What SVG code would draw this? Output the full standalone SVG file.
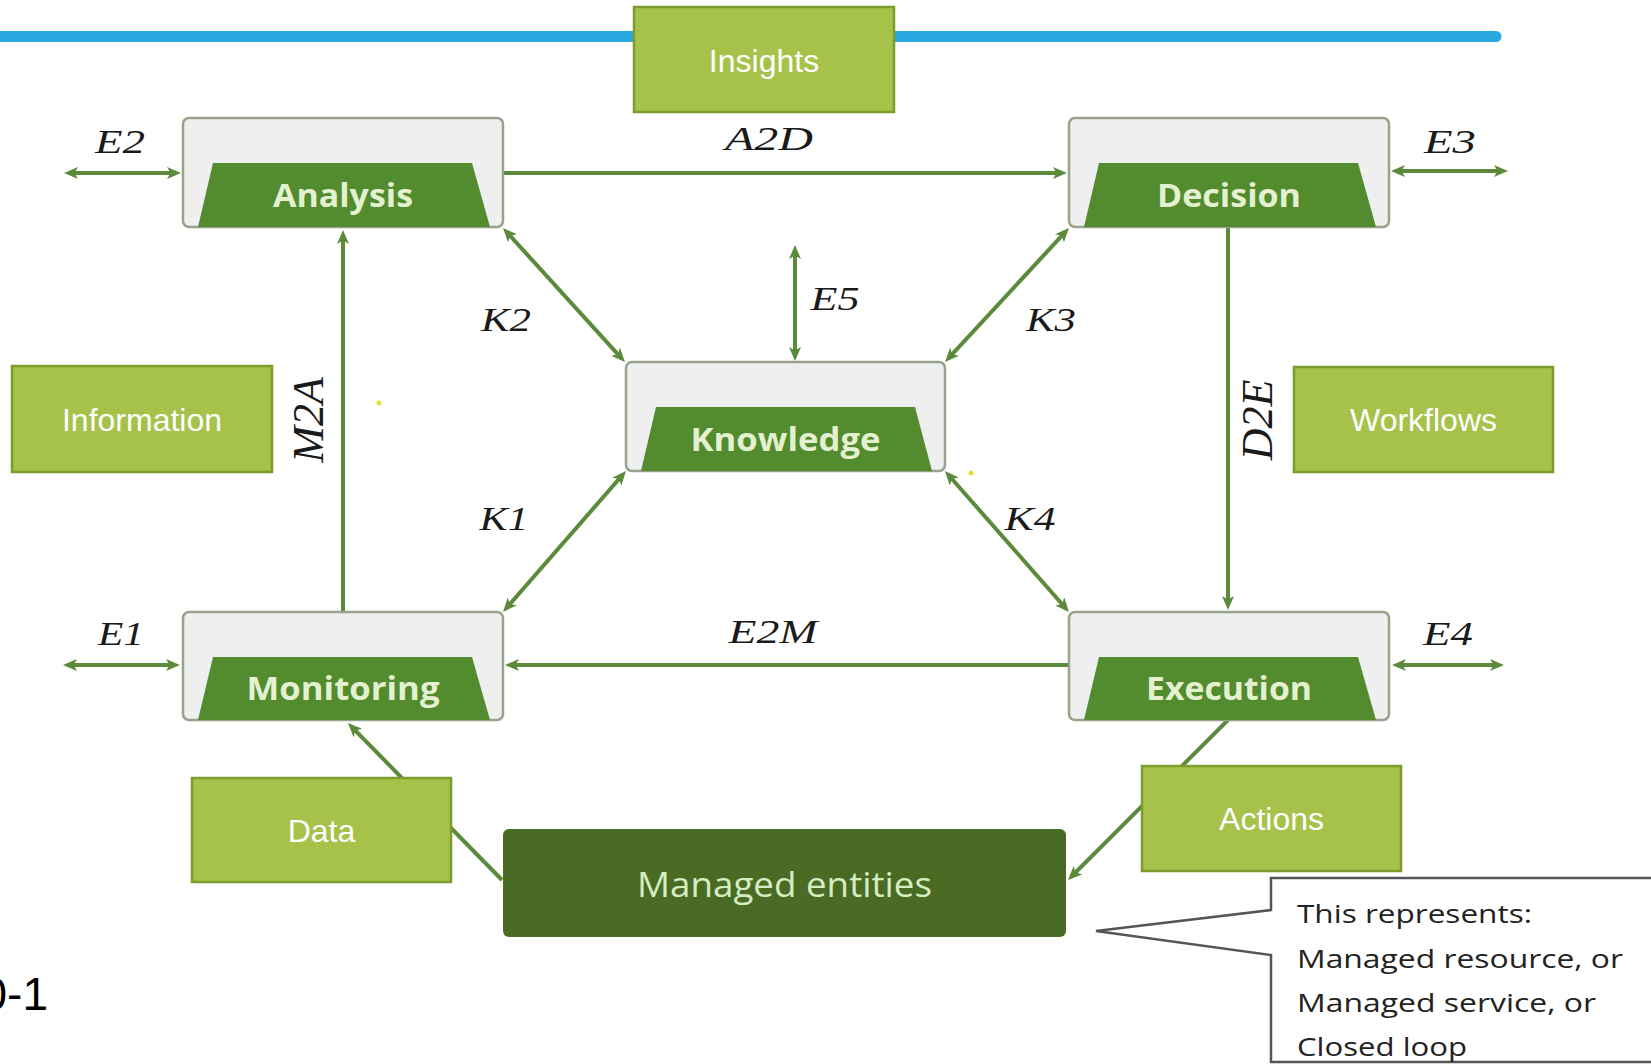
<svg xmlns="http://www.w3.org/2000/svg" width="1651" height="1064" viewBox="0 0 1651 1064">
<style>
.lime{fill:#a6c24a;stroke:#7d9c2e;stroke-width:2.5}
.limetxt{font-family:"Liberation Sans",Arial,sans-serif;font-size:32px;fill:#ffffff;text-anchor:middle}
.outer{fill:#efefef;stroke:#97a38c;stroke-width:2.5}
.trap{fill:#538b2f}
.ntxt{font-family:"Open Sans","Noto Sans",sans-serif;font-weight:bold;font-size:32px;fill:#e3f1d0;text-anchor:middle}
.lbl{font-family:"Liberation Serif","Times New Roman",serif;font-style:italic;font-size:34px;fill:#1a1a1a;text-anchor:middle}
.rlbl{font-family:"Liberation Serif","Times New Roman",serif;font-style:italic;font-size:44px;fill:#1a1a1a;text-anchor:middle}
.conn{stroke:#5b8a3b;stroke-width:4;fill:none}
.ctxt{font-family:"Open Sans","Noto Sans",sans-serif;font-size:26px;fill:#222222}
</style>
<defs>
<marker id="ah" viewBox="0 0 14 12" markerWidth="14" markerHeight="12" refX="9" refY="6" orient="auto-start-reverse" markerUnits="userSpaceOnUse">
<path d="M0,0 L14,6 L0,12 L3.5,6 Z" fill="#5b8a3b"/>
</marker>
</defs>
<rect width="1651" height="1064" fill="#ffffff"/>
<line x1="0" y1="36.5" x2="1496" y2="36.5" stroke="#29a8e0" stroke-width="11" stroke-linecap="round"/>

<g id="connectors">
<line class="conn" x1="69" y1="173" x2="176" y2="173" marker-start="url(#ah)" marker-end="url(#ah)"/>
<line class="conn" x1="503" y1="173" x2="1062" y2="173" marker-end="url(#ah)"/>
<line class="conn" x1="1396" y1="171" x2="1503" y2="171" marker-start="url(#ah)" marker-end="url(#ah)"/>
<line class="conn" x1="343" y1="612" x2="343" y2="235" marker-end="url(#ah)"/>
<line class="conn" x1="1228" y1="228" x2="1228" y2="605" marker-end="url(#ah)"/>
<line class="conn" x1="795" y1="250" x2="795" y2="356" marker-start="url(#ah)" marker-end="url(#ah)"/>
<line class="conn" x1="506.4" y1="231.7" x2="621.6" y2="358.3" marker-start="url(#ah)" marker-end="url(#ah)"/>
<line class="conn" x1="1065.6" y1="231.7" x2="948.4" y2="358.3" marker-start="url(#ah)" marker-end="url(#ah)"/>
<line class="conn" x1="506.3" y1="608.2" x2="622.7" y2="474.8" marker-start="url(#ah)" marker-end="url(#ah)"/>
<line class="conn" x1="948.3" y1="474.8" x2="1065.7" y2="608.2" marker-start="url(#ah)" marker-end="url(#ah)"/>
<line class="conn" x1="1069" y1="665" x2="510" y2="665" marker-end="url(#ah)"/>
<line class="conn" x1="68" y1="665" x2="175" y2="665" marker-start="url(#ah)" marker-end="url(#ah)"/>
<line class="conn" x1="1397" y1="665" x2="1499" y2="665" marker-start="url(#ah)" marker-end="url(#ah)"/>
<line class="conn" x1="502" y1="880" x2="351.5" y2="726.6" marker-end="url(#ah)"/>
<line class="conn" x1="1228" y1="720" x2="1071.5" y2="876.5" marker-end="url(#ah)"/>
<text class="lbl" x="120" y="153" textLength="50" lengthAdjust="spacingAndGlyphs">E2</text>
<text class="lbl" x="769" y="150" textLength="88" lengthAdjust="spacingAndGlyphs">A2D</text>
<text class="lbl" x="1450" y="153" textLength="52" lengthAdjust="spacingAndGlyphs">E3</text>
<text class="lbl" x="835" y="310" textLength="49" lengthAdjust="spacingAndGlyphs">E5</text>
<text class="lbl" x="506" y="331" textLength="50" lengthAdjust="spacingAndGlyphs">K2</text>
<text class="lbl" x="1051" y="331" textLength="50" lengthAdjust="spacingAndGlyphs">K3</text>
<text class="lbl" x="504" y="530" textLength="49" lengthAdjust="spacingAndGlyphs">K1</text>
<text class="lbl" x="1030" y="530" textLength="51" lengthAdjust="spacingAndGlyphs">K4</text>
<text class="lbl" x="773" y="643" textLength="89" lengthAdjust="spacingAndGlyphs">E2M</text>
<text class="lbl" x="121" y="645" textLength="46" lengthAdjust="spacingAndGlyphs">E1</text>
<text class="lbl" x="1448" y="645" textLength="50" lengthAdjust="spacingAndGlyphs">E4</text>
<text class="rlbl" transform="translate(323,420) rotate(-90)" x="0" y="0">M2A</text>
<text class="rlbl" transform="translate(1272,420) rotate(-90)" x="0" y="0">D2E</text>
</g>

<g id="analysis">
<rect class="outer" x="183" y="118" width="320" height="109" rx="6"/>
<polygon class="trap" points="213,163 472,163 490,227 198,227"/>
<text class="ntxt" x="343" y="207" textLength="140" lengthAdjust="spacingAndGlyphs">Analysis</text>
</g>
<g id="decision">
<rect class="outer" x="1069" y="118" width="320" height="109" rx="6"/>
<polygon class="trap" points="1099,163 1358,163 1376,227 1084,227"/>
<text class="ntxt" x="1229" y="207" textLength="144" lengthAdjust="spacingAndGlyphs">Decision</text>
</g>
<g id="knowledge">
<rect class="outer" x="626" y="362" width="319" height="109" rx="6"/>
<polygon class="trap" points="656,407 915,407 932,471 641,471"/>
<text class="ntxt" x="785.5" y="451" textLength="190" lengthAdjust="spacingAndGlyphs">Knowledge</text>
</g>
<g id="monitoring">
<rect class="outer" x="183" y="612" width="320" height="108" rx="6"/>
<polygon class="trap" points="213,657 472,657 490,720 198,720"/>
<text class="ntxt" x="343" y="700" textLength="193" lengthAdjust="spacingAndGlyphs">Monitoring</text>
</g>
<g id="execution">
<rect class="outer" x="1069" y="612" width="320" height="108" rx="6"/>
<polygon class="trap" points="1099,657 1358,657 1376,720 1084,720"/>
<text class="ntxt" x="1229" y="700" textLength="166" lengthAdjust="spacingAndGlyphs">Execution</text>
</g>
<g id="managed-entities">
<rect x="503" y="829" width="563" height="108" rx="6" fill="#4a6b23"/>
<text x="784.5" y="897" font-family="'Open Sans','Noto Sans',sans-serif" font-size="34" fill="#d6ecc2" text-anchor="middle" textLength="295" lengthAdjust="spacingAndGlyphs">Managed entities</text>
</g>

<g id="insights">
<rect class="lime" x="634" y="7" width="260" height="105"/>
<text class="limetxt" x="764" y="72">Insights</text>
</g>
<g id="information">
<rect class="lime" x="12" y="366" width="260" height="106"/>
<text class="limetxt" x="142" y="431">Information</text>
</g>
<g id="workflows">
<rect class="lime" x="1294" y="367" width="259" height="105"/>
<text class="limetxt" x="1423.5" y="431">Workflows</text>
</g>
<g id="data">
<rect class="lime" x="192" y="778" width="259" height="104"/>
<text class="limetxt" x="321.5" y="842">Data</text>
</g>
<g id="actions">
<rect class="lime" x="1142" y="766" width="259" height="105"/>
<text class="limetxt" x="1271.5" y="830">Actions</text>
</g>

<g id="callout">
<path d="M1271,878 L1660,878 L1660,1062 L1271,1062 L1271,955 L1096,931 L1271,910 Z" fill="#ffffff" stroke="#555555" stroke-width="2.5"/>
<text class="ctxt" x="1297" y="923" textLength="235" lengthAdjust="spacingAndGlyphs">This represents:</text>
<text class="ctxt" x="1297" y="968" textLength="326" lengthAdjust="spacingAndGlyphs">Managed resource, or</text>
<text class="ctxt" x="1297" y="1012" textLength="299" lengthAdjust="spacingAndGlyphs">Managed service, or</text>
<text class="ctxt" x="1297" y="1056" textLength="170" lengthAdjust="spacingAndGlyphs">Closed loop</text>
</g>

<text x="48" y="1010" font-family="'Liberation Sans',Arial,sans-serif" font-size="46" fill="#000000" text-anchor="end">0-1</text>
<circle cx="379" cy="403" r="2.5" fill="#e8e030"/>
<circle cx="971" cy="473" r="2.5" fill="#e8e030"/>
</svg>
